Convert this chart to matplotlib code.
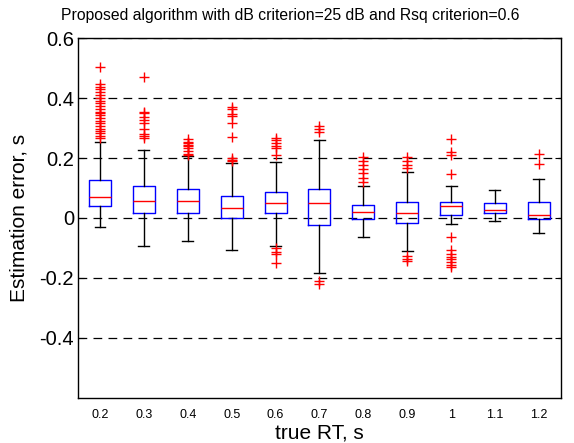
"""Boxplot of RT estimation error per true RT"""

import matplotlib
matplotlib.use('Agg')
import matplotlib.pyplot as plt

plt.rcParams['font.family'] = ['Liberation Sans', 'DejaVu Sans']
plt.rcParams['axes.unicode_minus'] = False

# Box statistics (seconds)
true_rt = ['0.2', '0.3', '0.4', '0.5', '0.6', '0.7', '0.8', '0.9', '1', '1.1', '1.2']
medians = [0.069, 0.058, 0.058, 0.033, 0.050, 0.051, 0.020, 0.017, 0.040, 0.027, 0.010]
q1s = [0.039, 0.017, 0.017, 0.000, 0.017, -0.023, -0.002, -0.017, 0.009, 0.017, -0.004]
q3s = [0.128, 0.106, 0.095, 0.073, 0.088, 0.095, 0.042, 0.053, 0.053, 0.049, 0.053]
whisk_lo = [-0.031, -0.095, -0.077, -0.107, -0.093, -0.182, -0.062, -0.109, -0.020, -0.009, -0.049]
whisk_hi = [0.254, 0.227, 0.207, 0.184, 0.188, 0.260, 0.107, 0.154, 0.107, 0.093, 0.131]
outliers = [
    [0.502, 0.447, 0.436, 0.429, 0.421, 0.410, 0.399, 0.391, 0.382, 0.373, 0.362,
     0.354, 0.349, 0.343, 0.332, 0.324, 0.316, 0.307, 0.296, 0.291, 0.284, 0.273, 0.266],
    [0.469, 0.354, 0.349, 0.338, 0.327, 0.316, 0.296, 0.280, 0.273, 0.266],
    [0.262, 0.255, 0.249, 0.245, 0.240, 0.233, 0.222, 0.215, 0.211],
    [0.370, 0.362, 0.347, 0.340, 0.318, 0.271, 0.200, 0.195, 0.189],
    [0.268, 0.260, 0.250, 0.241, 0.232, 0.210, -0.101, -0.112, -0.120, -0.149],
    [0.306, 0.296, 0.286, -0.210, -0.220],
    [0.204, 0.191, 0.177, 0.162, 0.151, 0.132, 0.121],
    [0.204, 0.191, 0.177, 0.166, -0.128, -0.136, -0.142],
    [0.262, 0.220, 0.210, 0.146, -0.062, -0.107, -0.120, -0.129, -0.138, -0.146, -0.157, -0.165],
    [],
    [0.213, 0.180],
]
yticks = [-0.4, -0.2, 0, 0.2, 0.4, 0.6]
ytick_labels = ['-0.4', '-0.2', '0', '0.2', '0.4', '0.6']


def main():
    stats = []
    for i in range(len(true_rt)):
        stats.append(dict(med=medians[i], q1=q1s[i], q3=q3s[i],
                          whislo=whisk_lo[i], whishi=whisk_hi[i],
                          fliers=outliers[i], label=true_rt[i]))

    fig = plt.figure(figsize=(5.74, 4.43), dpi=100)
    ax = fig.add_axes([0.136, 0.102, 0.841, 0.812])

    # dashed horizontal grid behind the boxes
    for y in yticks:
        ax.axhline(y, color='black', linestyle=(0, (7, 5)), linewidth=0.9, zorder=0)

    ax.bxp(stats, positions=range(1, len(true_rt) + 1), widths=0.5, capwidths=0.25,
           boxprops=dict(color='blue', linewidth=1.0),
           medianprops=dict(color='red', linewidth=1.0),
           whiskerprops=dict(color='black', linewidth=1.0),
           capprops=dict(color='black', linewidth=1.0),
           flierprops=dict(marker='+', markeredgecolor='red', markersize=7,
                           markeredgewidth=1.0, linestyle='none'))

    ax.set_xlim(0.5, len(true_rt) + 0.5)
    ax.set_ylim(-0.6, 0.6)
    ax.set_yticks(yticks)
    ax.set_yticklabels(ytick_labels, fontsize=14.5)
    ax.set_xticks(range(1, len(true_rt) + 1))
    ax.set_xticklabels(true_rt, fontsize=9)
    ax.tick_params(axis='x', length=0, pad=8)
    ax.tick_params(axis='y', direction='in', length=4, right=True, pad=3)

    for sp in ax.spines.values():
        sp.set_linewidth(1.0)

    ax.set_xlabel('true RT, s', fontsize=15, labelpad=2)
    ax.set_ylabel('Estimation error, s', fontsize=15, labelpad=8)
    fig.text(0.505, 0.966, 'Proposed algorithm with dB criterion=25 dB and Rsq criterion=0.6',
             ha='center', va='center', fontsize=11.3)

    fig.savefig('out.png', dpi=100)


if __name__ == '__main__':
    main()
